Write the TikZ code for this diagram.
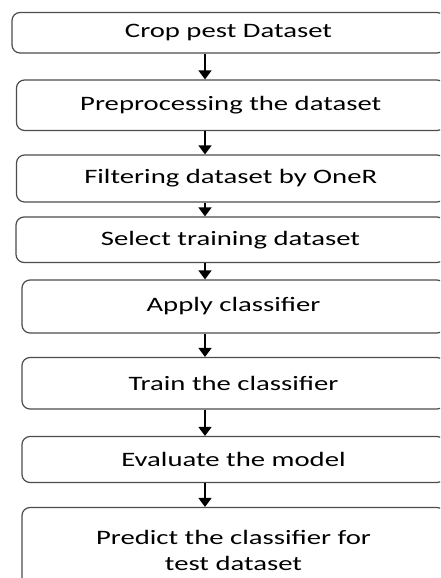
\documentclass[tikz,border=0pt]{standalone}
\usepackage{fontspec}
\setmainfont[FakeStretch=1.4]{Carlito}
\usetikzlibrary{arrows.meta}

\begin{document}
\begin{tikzpicture}[x=1pt, y=-1pt,
    stagebox/.style={draw=black!70, line width=1.2pt, rounded corners=8pt,
      inner sep=0pt, align=center, font=\fontsize{20.5}{26}\selectfont},
    flow/.style={-{Triangle[width=13pt,length=9pt]}, line width=1.5pt}]
  % Frame
  \useasboundingbox (0,0) rectangle (440,578);
  \clip (0,0) rectangle (440,578);

  % Stages
  \node[stagebox, minimum width=433pt, minimum height=40.5pt] (crop) at (228.5,32.75) {Crop pest Dataset};
  \node[stagebox, minimum width=428.5pt, minimum height=50.5pt] (prep) at (230.75,105.25) {Preprocessing the dataset};
  \node[stagebox, minimum width=428.5pt, minimum height=47pt] (filter) at (230.75,178.5) {Filtering dataset by OneR};
  \node[stagebox, minimum width=429pt, minimum height=45.5pt] (select) at (230.5,239.75) {Select training dataset};
  \node[stagebox, minimum width=423pt, minimum height=53pt] (apply) at (233.5,306.5) {Apply classifier};
  \node[stagebox, minimum width=423pt, minimum height=51.5pt] (train) at (233.5,383.25) {Train the classifier};
  \node[stagebox, minimum width=423pt, minimum height=46pt] (eval) at (233.5,459.5) {Evaluate the model};
  \node[stagebox, minimum width=423pt, minimum height=85pt] (predict) at (233.5,550) {Predict the classifier for\\test dataset};

  % Arrows
  \coordinate (ax) at (205,0);
  \draw[flow] (crop.south -| ax) -- (prep.north -| ax);
  \draw[flow] (prep.south -| ax) -- (filter.north -| ax);
  \draw[flow] (filter.south -| ax) -- (select.north -| ax);
  \draw[flow] (select.south -| ax) -- (apply.north -| ax);
  \draw[flow] (apply.south -| ax) -- (train.north -| ax);
  \draw[flow] (train.south -| ax) -- (eval.north -| ax);
  \draw[flow] (eval.south -| ax) -- (predict.north -| ax);
\end{tikzpicture}
\end{document}
